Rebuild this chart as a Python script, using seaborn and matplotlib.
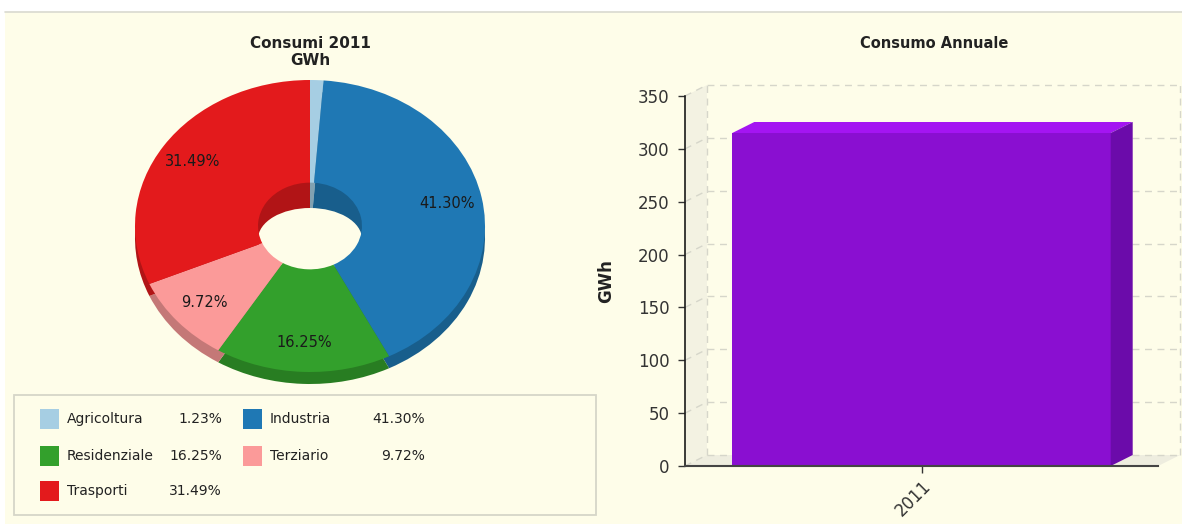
import matplotlib
matplotlib.use("Agg")
import matplotlib.pyplot as plt
import seaborn as sns
import pandas as pd
from matplotlib.patches import Rectangle, Polygon, Ellipse

# ---- data -------------------------------------------------------------
sectors = ["Agricoltura", "Industria", "Residenziale", "Terziario", "Trasporti"]
shares = [1.23, 41.30, 16.25, 9.72, 31.49]          # % of 2011 consumption
years = ["2011"]
consumption = [315]                                 # GWh
y_ticks = [0, 50, 100, 150, 200, 250, 300, 350]

pie_title = "Consumi 2011\nGWh"
bar_title = "Consumo Annuale"
y_label = "GWh"

# ---- style ------------------------------------------------------------
sns.set_theme(style="white")
plt.rcParams["font.family"] = ["DejaVu Sans"]

W, H = 1182, 524
PANEL = "#FEFDE9"
TEXT = "#222222"

fig = plt.figure(figsize=(W / 100, H / 100), dpi=100, facecolor="white")

# background layer in pixel coordinates (y grows downwards)
bg = fig.add_axes([0, 0, 1, 1], zorder=-5)
bg.set_xlim(0, W)
bg.set_ylim(H, 0)
bg.axis("off")
bg.add_patch(Rectangle((5, 12), W - 5, H - 12, facecolor=PANEL, edgecolor="none"))
bg.plot([5, W], [12, 12], color="#D9D9D0", lw=1.2)

# ---- donut chart ------------------------------------------------------
pal = sns.color_palette("Paired")
colors = [pal[0], pal[1], pal[3], pal[4], pal[5]]
shade = [tuple(c * 0.78 for c in col) for col in colors]

pax = fig.add_axes([110 / W, 1 - 400 / H, 400 / W, 340 / H])
ry = 146.0                       # vertical radius in px
depth = 12 / ry                  # thickness of the rim

# darker copy underneath gives the rim / inner wall
pax.pie(shares, colors=shade, startangle=90, counterclock=False,
        center=(0, -depth), radius=1, wedgeprops=dict(linewidth=0))
# opening seen through the hole
pax.add_patch(Ellipse((0, -13 / ry), width=2 * 0.297, height=2 * 31 / ry,
                      facecolor=PANEL, edgecolor="none"))
pax.pie(shares, colors=colors, startangle=90, counterclock=False, radius=1,
        wedgeprops=dict(width=0.703, linewidth=0),
        autopct=lambda p: f"{p:.2f}%" if p > 5 else "",
        pctdistance=0.8, textprops=dict(fontsize=10.5, color="#1a1a1a"))
pax.set_aspect("auto")
pax.set_xlim(-200 / 175, 200 / 175)
pax.set_ylim(-174 / ry, 166 / ry)
pax.axis("off")

bg.text(310, 52, pie_title, ha="center", va="center", fontsize=11,
        fontweight="bold", color=TEXT, linespacing=1.2)

# legend box
bg.add_patch(Rectangle((14, 395), 582, 120, facecolor="none",
                       edgecolor="#D6D6C8", lw=1.3))
slots = [(40, 419), (243, 419), (40, 456), (243, 456), (40, 491)]
for (x, y), name, val, col in zip(slots, sectors, shares, colors):
    bg.add_patch(Rectangle((x, y - 10), 19, 20, facecolor=col, edgecolor="none"))
    bg.text(x + 27, y, name, ha="left", va="center", fontsize=10, color=TEXT)
    bg.text(x + 182, y, f"{val:.2f}%", ha="right", va="center", fontsize=10,
            color=TEXT)

# ---- 3D-style bar chart ----------------------------------------------
ax_l, ax_r, ax_b, ax_t = 685, 1158, 466, 96
bax = fig.add_axes([ax_l / W, 1 - ax_b / H, (ax_r - ax_l) / W, (ax_b - ax_t) / H])
bax.set_facecolor("none")

FRONT, TOP, SIDE = "#8A0FD1", "#A415F2", "#6B0BAA"
df = pd.DataFrame({"Anno": years, "GWh": consumption})
sns.barplot(data=df, x="Anno", y="GWh", color=FRONT, saturation=1, width=0.8,
            linewidth=0, ax=bax, zorder=3)
bax.set_xlim(-0.5, 0.5)
bax.set_ylim(0, 350)
bax.set_yticks(y_ticks)

# depth offsets converted from pixels to data units
dx = 22 / (ax_r - ax_l)
dy = 11 * 350 / (ax_b - ax_t)
x0, x1 = -0.5, 0.5
grid_kw = dict(color="#D6D6CA", lw=1, ls=(0, (5, 4)), clip_on=False, zorder=1)

bax.add_patch(Polygon([(x0, 0), (x0 + dx, dy), (x0 + dx, 350 + dy), (x0, 350)],
                      closed=True, facecolor="#F3F2E2", edgecolor="none",
                      clip_on=False, zorder=0))
bax.add_patch(Polygon([(x0, 0), (x1, 0), (x1 + dx, dy), (x0 + dx, dy)],
                      closed=True, facecolor="#EEEDDF", edgecolor="none",
                      clip_on=False, zorder=0))
for v in y_ticks:
    bax.plot([x0 + dx, x1 + dx], [v + dy, v + dy], **grid_kw)
    bax.plot([x0, x0 + dx], [v, v + dy], **grid_kw)
for xv in (x0 + dx, x1 + dx):
    bax.plot([xv, xv], [dy, 350 + dy], **grid_kw)

for bar in bax.patches:
    if not isinstance(bar, Rectangle):
        continue
    bx, bw, bh = bar.get_x(), bar.get_width(), bar.get_height()
    bax.add_patch(Polygon([(bx, bh), (bx + dx, bh + dy), (bx + bw + dx, bh + dy),
                           (bx + bw, bh)], closed=True, facecolor=TOP,
                          edgecolor="none", clip_on=False, zorder=3))
    bax.add_patch(Polygon([(bx + bw, 0), (bx + bw + dx, dy),
                           (bx + bw + dx, bh + dy), (bx + bw, bh)], closed=True,
                          facecolor=SIDE, edgecolor="none", clip_on=False,
                          zorder=3))

for side in ("top", "right"):
    bax.spines[side].set_visible(False)
bax.spines["left"].set_color("#1a1a1a")
bax.spines["left"].set_linewidth(1.2)
bax.spines["bottom"].set_color("#444444")
bax.spines["bottom"].set_linewidth(1.5)
bax.spines["bottom"].set_zorder(4)
bax.tick_params(axis="both", direction="out", length=5, width=1,
                colors="#333333", labelsize=12, left=True, bottom=True, pad=6)
bax.tick_params(axis="x", labelrotation=45, pad=3)
for lab in bax.get_xticklabels():
    lab.set_ha("right")
    lab.set_rotation_mode("anchor")
bax.set_xlabel("")
bax.set_ylabel(y_label, fontsize=12, fontweight="bold", color=TEXT)
bax.yaxis.set_label_coords(-(ax_l - 615) / (ax_r - ax_l), 0.5)

bg.text(934, 43, bar_title, ha="center", va="center", fontsize=10.5,
        fontweight="bold", color=TEXT)

fig.savefig("out.png", dpi=100, facecolor="white")
